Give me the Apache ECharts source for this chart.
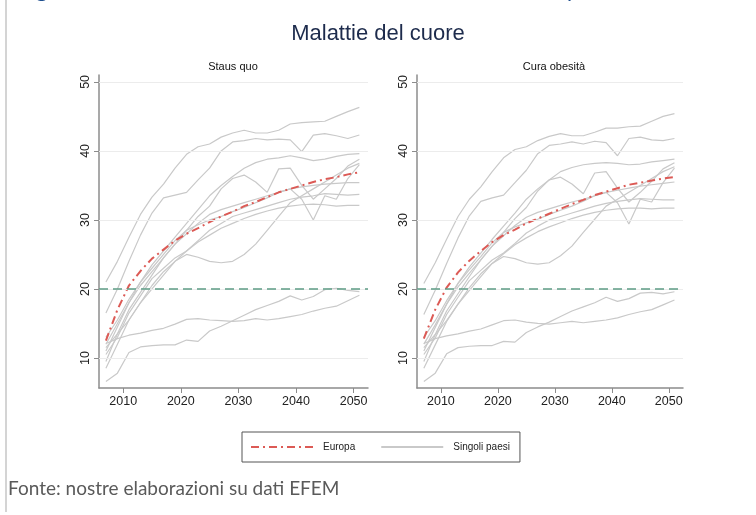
<!DOCTYPE html>
<html>
<head>
<meta charset="utf-8">
<script src="https://cdn.jsdelivr.net/npm/echarts@6/dist/echarts.min.js"></script>
<style>
  html, body { margin: 0; padding: 0; background: #fff; }
  #main { width: 756px; height: 515px; }
</style>
</head>
<body>
<div id="main"></div>
<script>
// anni (ogni 2 anni, 2007-2051)
const years = [2007, 2009, 2011, 2013, 2015, 2017, 2019, 2021, 2023, 2025, 2027, 2029,
  2031, 2033, 2035, 2037, 2039, 2041, 2043, 2045, 2047, 2049, 2051]
const xTicks = [2010, 2020, 2030, 2040, 2050]
const yTicks = [10, 20, 30, 40, 50]
const soglia = 20

// Staus quo
const europaSQ = [12.5, 17.0, 20.5, 22.6, 24.4, 25.7, 27.0, 28.0, 28.8, 29.7, 30.5, 31.2,
  32.0, 32.6, 33.3, 34.0, 34.5, 35.0, 35.5, 35.9, 36.2, 36.6, 36.9]
const paesiSQ = [
  [21.0, 24.0, 27.5, 30.8, 33.3, 35.2, 37.5, 39.5, 40.6, 41.0, 42.0, 42.6, 43.0, 42.6, 42.6, 43.0, 43.9, 44.1, 44.2, 44.3, 45.0, 45.7, 46.3],
  [16.5, 20.0, 24.0, 27.8, 31.0, 33.2, 33.6, 34.0, 35.8, 37.5, 40.0, 41.3, 41.5, 41.8, 41.6, 41.7, 41.6, 39.9, 42.3, 42.5, 42.2, 41.8, 42.3],
  [11.0, 14.5, 18.0, 21.0, 23.5, 25.5, 27.5, 29.5, 31.5, 33.5, 35.0, 36.3, 37.5, 38.3, 38.8, 39.0, 39.3, 39.0, 38.6, 38.8, 39.2, 39.5, 39.6],
  [9.5, 13.5, 17.0, 19.5, 22.0, 24.5, 26.5, 28.5, 30.5, 32.0, 34.5, 36.0, 36.5, 35.5, 34.0, 37.4, 37.5, 35.0, 33.0, 34.5, 36.0, 37.8, 38.8],
  [12.0, 15.0, 18.0, 20.5, 22.5, 24.5, 26.5, 28.0, 29.5, 30.8, 31.5, 32.0, 32.5, 33.0, 33.5, 34.0, 34.5, 33.0, 30.0, 33.5, 33.0, 36.0, 38.0],
  [13.0, 15.5, 18.5, 21.0, 23.0, 25.0, 27.0, 28.5, 29.3, 30.0, 30.5, 31.2, 31.8, 32.5, 33.2, 34.0, 34.5, 34.8, 35.0, 35.2, 35.3, 35.4, 35.4],
  [10.5, 13.0, 16.5, 19.0, 21.5, 23.0, 24.5, 25.5, 27.0, 28.5, 29.5, 30.5, 31.0, 31.5, 32.0, 32.5, 33.0, 33.3, 33.5, 33.8, 33.7, 33.6, 33.7],
  [8.5, 12.0, 15.5, 18.0, 20.5, 22.5, 24.0, 25.5, 26.8, 27.8, 28.8, 29.5, 30.2, 30.8, 31.3, 31.7, 32.0, 32.2, 32.3, 32.2, 32.0, 32.1, 32.1],
  [11.5, 13.5, 15.5, 18.0, 20.0, 22.0, 24.0, 25.0, 24.6, 24.0, 23.8, 24.0, 25.0, 26.5, 28.5, 30.5, 32.5, 33.5, 34.5, 35.5, 36.5, 37.5, 38.2],
  [12.1, 12.8, 13.3, 13.6, 14.0, 14.3, 14.9, 15.6, 15.7, 15.5, 15.4, 15.3, 15.4, 15.7, 15.5, 15.7, 16.0, 16.3, 16.8, 17.2, 17.5, 18.3, 19.1],
  [6.6, 7.8, 10.8, 11.6, 11.8, 11.9, 11.9, 12.6, 12.4, 13.9, 14.6, 15.4, 16.2, 17.0, 17.6, 18.2, 19.0, 18.4, 18.9, 19.9, 20.1, 19.8, 19.6]
]

// Cura obesità
const europaCO = [12.8, 17.0, 20.2, 22.4, 24.1, 25.5, 26.8, 27.8, 28.6, 29.5, 30.2, 30.9,
  31.6, 32.3, 32.9, 33.6, 34.1, 34.6, 35.1, 35.4, 35.7, 36.0, 36.2]
const paesiCO = [
  [20.8, 23.8, 27.2, 30.5, 33.0, 34.8, 37.0, 39.0, 40.2, 40.6, 41.5, 42.1, 42.5, 42.2, 42.2, 42.7, 43.3, 43.3, 43.5, 43.6, 44.3, 45.0, 45.4],
  [16.3, 19.8, 23.7, 27.4, 30.6, 32.7, 33.2, 33.6, 35.4, 37.2, 39.6, 40.8, 41.0, 41.3, 41.0, 41.4, 41.2, 39.3, 41.8, 42.0, 41.6, 41.5, 41.8],
  [11.0, 14.4, 17.8, 20.8, 23.2, 25.2, 27.2, 29.1, 31.0, 33.0, 34.5, 35.8, 37.0, 37.6, 38.0, 38.2, 38.3, 38.2, 38.0, 38.1, 38.4, 38.6, 38.8],
  [9.5, 13.4, 16.8, 19.3, 21.8, 24.2, 26.2, 28.2, 30.2, 31.8, 34.2, 35.8, 36.2, 35.2, 33.8, 36.8, 37.0, 34.6, 32.6, 34.0, 35.6, 37.4, 38.3],
  [12.0, 14.8, 17.8, 20.3, 22.3, 24.2, 26.2, 27.7, 29.2, 30.4, 31.1, 31.6, 32.1, 32.6, 33.0, 33.5, 34.0, 32.5, 29.4, 33.0, 32.6, 35.4, 37.5],
  [13.0, 15.4, 18.3, 20.8, 22.8, 24.7, 26.7, 28.2, 29.0, 29.6, 30.1, 30.8, 31.4, 32.0, 32.7, 33.5, 34.0, 34.3, 34.6, 34.9, 35.1, 35.3, 35.5],
  [10.5, 12.9, 16.3, 18.8, 21.2, 22.7, 24.2, 25.2, 26.6, 28.1, 29.1, 30.0, 30.5, 31.0, 31.5, 32.0, 32.4, 32.7, 32.9, 33.1, 33.0, 32.9, 32.9],
  [8.5, 11.9, 15.3, 17.8, 20.2, 22.2, 23.7, 25.1, 26.4, 27.4, 28.3, 29.0, 29.6, 30.2, 30.7, 31.1, 31.4, 31.6, 31.7, 31.7, 31.6, 31.7, 31.7],
  [11.5, 13.4, 15.4, 17.8, 19.8, 21.8, 23.7, 24.7, 24.4, 23.8, 23.6, 23.8, 24.8, 26.2, 28.2, 30.1, 32.0, 33.0, 34.0, 35.0, 36.0, 37.0, 37.7],
  [12.1, 12.8, 13.2, 13.5, 13.9, 14.2, 14.8, 15.4, 15.5, 15.2, 15.0, 14.9, 15.1, 15.3, 15.1, 15.3, 15.5, 15.8, 16.3, 16.7, 17.0, 17.7, 18.4],
  [6.6, 7.8, 10.6, 11.5, 11.7, 11.8, 11.8, 12.4, 12.3, 13.7, 14.5, 15.2, 16.0, 16.8, 17.4, 18.0, 18.8, 18.2, 18.6, 19.4, 19.5, 19.3, 19.6]
]

const GREY = '#c9c9c9'
const RED = '#dc5a55'
const GREEN = '#5e9c85'
const AXIS = '#8c8c8c'
const FONT = "'Liberation Sans', Arial, sans-serif"

const chart = echarts.init(document.getElementById('main'), null, { renderer: 'canvas' })

function toPoints(values) {
  return years.map((y, i) => [y, values[i]])
}

function buildAxes(gridIndex) {
  const x = {
    type: 'value',
    gridIndex,
    min: 2005.8,
    max: 2052.5,
    axisLine: { show: true, onZero: false, lineStyle: { color: AXIS, width: 1.5 } },
    axisTick: { show: true, customValues: xTicks, length: 5, lineStyle: { color: AXIS } },
    axisLabel: {
      customValues: xTicks,
      formatter: (v) => String(v),
      color: '#222',
      fontSize: 12.5,
      fontFamily: FONT,
      margin: 7
    },
    splitLine: { show: false }
  }
  const y = {
    type: 'value',
    gridIndex,
    min: 5.65,
    max: 51,
    axisLine: { show: true, onZero: false, lineStyle: { color: AXIS, width: 1.5 } },
    axisTick: { show: true, customValues: yTicks, length: 5, lineStyle: { color: AXIS } },
    axisLabel: { customValues: yTicks, rotate: 90, color: '#222', fontSize: 12.5, fontFamily: FONT, margin: 7 },
    splitLine: { show: false }
  }
  return { x, y }
}

function buildSeries(gridIndex, europa, paesi) {
  const list = []
  // linee della griglia orizzontale
  list.push({
    type: 'line',
    name: 'griglia',
    xAxisIndex: gridIndex,
    yAxisIndex: gridIndex,
    data: [],
    silent: true,
    z: 1,
    markLine: {
      silent: true,
      symbol: 'none',
      label: { show: false },
      lineStyle: { color: '#ececec', type: 'solid', width: 1 },
      data: yTicks.map((v) => ({ yAxis: v }))
    }
  })
  paesi.forEach((values) => {
    list.push({
      type: 'line',
      name: 'Singoli paesi',
      xAxisIndex: gridIndex,
      yAxisIndex: gridIndex,
      data: toPoints(values),
      showSymbol: false,
      symbol: 'none',
      silent: true,
      z: 2,
      lineStyle: { color: GREY, width: 1.2 },
      itemStyle: { color: GREY }
    })
  })
  list.push({
    type: 'line',
    name: 'Europa',
    xAxisIndex: gridIndex,
    yAxisIndex: gridIndex,
    data: toPoints(europa),
    showSymbol: false,
    symbol: 'none',
    silent: true,
    z: 4,
    lineStyle: { color: RED, width: 2, type: [8, 4, 2, 4] },
    itemStyle: { color: RED },
    markLine: {
      silent: true,
      symbol: 'none',
      label: { show: false },
      lineStyle: { color: GREEN, type: [9, 5], width: 1.6 },
      data: [{ yAxis: soglia }]
    }
  })
  return list
}

const a0 = buildAxes(0)
const a1 = buildAxes(1)

const option = {
  animation: false,
  backgroundColor: '#fff',
  title: {
    text: 'Malattie del cuore',
    left: 'center',
    top: 18,
    textStyle: { color: '#1d2b4c', fontSize: 22, fontWeight: 'normal', fontFamily: FONT }
  },
  grid: [
    { left: 99, top: 75, width: 269, height: 313 },
    { left: 417, top: 75, width: 266, height: 313 }
  ],
  xAxis: [a0.x, a1.x],
  yAxis: [a0.y, a1.y],
  legend: {
    data: ['Europa', 'Singoli paesi'],
    left: 242,
    top: 432,
    orient: 'horizontal',
    itemWidth: 62,
    itemHeight: 10,
    itemGap: 25,
    padding: [10, 10, 10, 8],
    borderColor: '#555',
    borderWidth: 1,
    selectedMode: false,
    itemStyle: { color: 'rgba(0,0,0,0)', borderColor: 'rgba(0,0,0,0)', borderWidth: 0 },
    textStyle: { color: '#222', fontSize: 10, fontFamily: FONT, padding: [0, 0, 0, 5] }
  },
  graphic: [
    { type: 'rect', left: 5, top: 0, shape: { width: 2, height: 512 }, style: { fill: '#d4d4d4' } },
    { type: 'text', x: 36, y: -21, style: { text: 'g', fill: '#1f4f8f', font: '22px Lato, sans-serif' } },
    { type: 'text', x: 567, y: -21, style: { text: 'p', fill: '#1f4f8f', font: '22px Lato, sans-serif' } },
    { type: 'text', x: 233, y: 67, style: { text: 'Staus quo', fill: '#111', font: "11px 'Liberation Sans', Arial, sans-serif", align: 'center', verticalAlign: 'middle' } },
    { type: 'text', x: 554, y: 67, style: { text: 'Cura obesità', fill: '#111', font: "11px 'Liberation Sans', Arial, sans-serif", align: 'center', verticalAlign: 'middle' } },
    { type: 'text', x: 8, y: 489, style: { text: 'Fonte: nostre elaborazioni su dati EFEM', fill: '#5a5a5a', font: '19px Lato, sans-serif', verticalAlign: 'middle' } }
  ],
  series: [...buildSeries(0, europaSQ, paesiSQ), ...buildSeries(1, europaCO, paesiCO)]
}

chart.setOption(option)
</script>
</body>
</html>
